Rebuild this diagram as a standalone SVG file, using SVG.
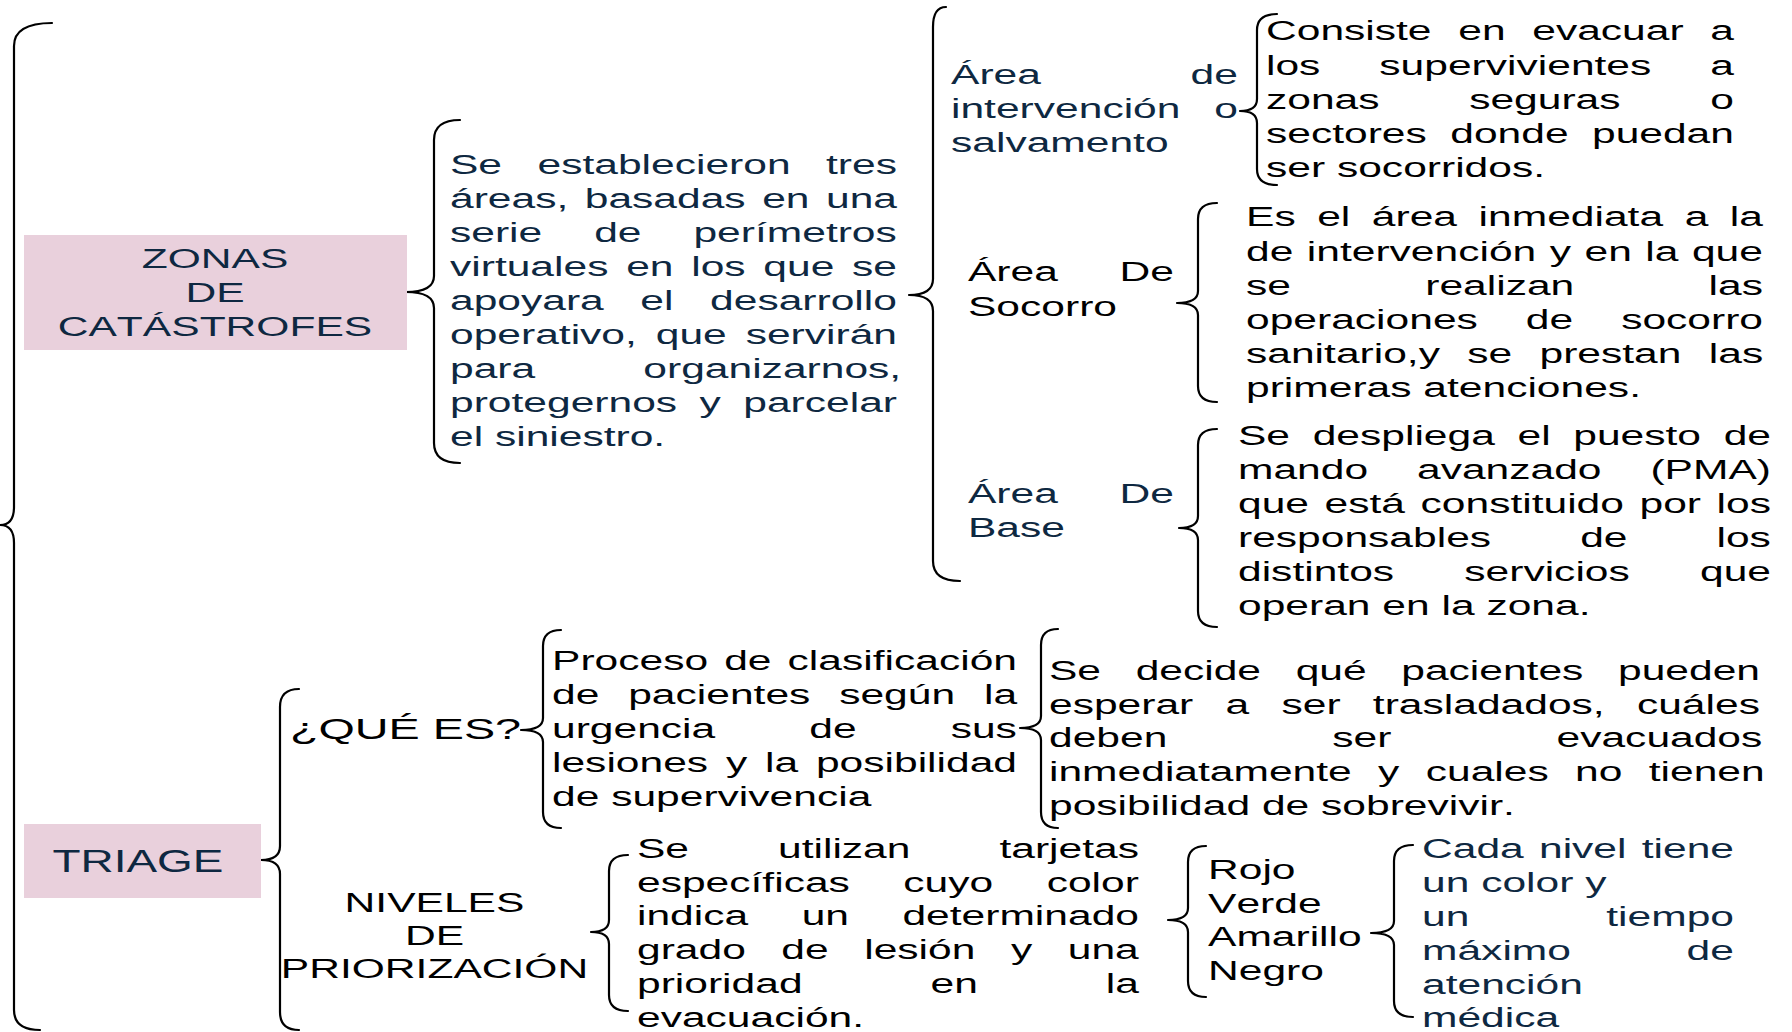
<svg xmlns="http://www.w3.org/2000/svg" width="1792" height="1032" viewBox="0 0 1792 1032">
<style>
text{font-family:"Liberation Sans",Arial,sans-serif;font-size:28px;font-kerning:none}
.n{fill:#0E2841}
.k{fill:#000}
.br{fill:none;stroke:#000;stroke-width:2.2;stroke-linecap:round;stroke-linejoin:round}
.box{fill:#E9D0DC}
.h{font-size:31px}
</style>
<rect width="1792" height="1032" fill="#fff"/>
<g id="connectors">
<path class="br" d="M52,23 Q14,23 14,46 V507 Q14,525 0,525 Q14,525 14,543 V1010 Q14,1030 40,1030"/>
<path class="br" d="M460,120 Q434,120 434,140 V276 Q434,292 406,292 Q434,292 434,308 V443 Q434,463 460,463"/>
<path class="br" d="M946,7 Q933,7 933,27 V279 Q933,295 909,295 Q933,295 933,311 V561 Q933,581 960,581"/>
<path class="br" d="M1277,14 Q1257,14 1257,30 V99 Q1257,111 1240,111 Q1257,111 1257,123 V169 Q1257,185 1277,185"/>
<path class="br" d="M1217,203 Q1198,203 1198,219 V291 Q1198,303 1177,303 Q1198,303 1198,315 V386 Q1198,402 1217,402"/>
<path class="br" d="M1217,429 Q1198,429 1198,445 V516 Q1198,528 1179,528 Q1198,528 1198,540 V611 Q1198,627 1217,627"/>
<path class="br" d="M299,689 Q280,689 280,707 V846 Q280,860 261,860 Q280,860 280,874 V1012 Q280,1030 299,1030"/>
<path class="br" d="M561,630 Q543,630 543,646 V718 Q543,730 521,730 Q543,730 543,742 V812 Q543,828 561,828"/>
<path class="br" d="M1058,629 Q1041,629 1041,645 V716 Q1041,728 1020,728 Q1041,728 1041,740 V812 Q1041,828 1058,828"/>
<path class="br" d="M628,855 Q609,855 609,871 V920 Q609,932 591,932 Q609,932 609,944 V995 Q609,1011 628,1011"/>
<path class="br" d="M1206,846 Q1188,846 1188,862 V908 Q1188,920 1168,920 Q1188,920 1188,932 V981 Q1188,997 1206,997"/>
<path class="br" d="M1413,845 Q1394,845 1394,861 V921 Q1394,933 1371,933 Q1394,933 1394,945 V1001 Q1394,1017 1413,1017"/>
</g>
<g id="zonas">
<rect class="box" x="24" y="235" width="383" height="115"/>
<g transform="scale(1.52,1)" class="n" text-anchor="middle">
<text x="141.45" y="268">ZONAS</text>
<text x="141.45" y="302">DE</text>
<text x="141.45" y="336">CATÁSTROFES</text>
</g>
</g>
<g id="tres-areas">
<g transform="scale(1.52,1)" class="n">
<text x="296.05" y="174" style="word-spacing:15.54px">Se establecieron tres</text>
<text x="296.05" y="208" style="word-spacing:3.08px">áreas, basadas en una</text>
<text x="296.05" y="242" style="word-spacing:26.4px">serie de perímetros</text>
<text x="296.05" y="276" style="word-spacing:3.88px">virtuales en los que se</text>
<text x="296.05" y="310" style="word-spacing:16.3px">apoyara el desarrollo</text>
<text x="296.05" y="344" style="word-spacing:4.65px">operativo, que servirán</text>
<text x="296.05" y="378" style="word-spacing:63.4px">para organizarnos,</text>
<text x="296.05" y="412" style="word-spacing:6.99px">protegernos y parcelar</text>
<text x="296.05" y="446">el siniestro.</text>
</g>
</g>
<g id="area-intervencion">
<g transform="scale(1.52,1)" class="n">
<text x="625.66" y="84" style="word-spacing:90.7px">Área de</text>
<text x="625.66" y="118" style="word-spacing:14.5px">intervención o</text>
<text x="625.66" y="152">salvamento</text>
</g>
</g>
<g id="consiste">
<g transform="scale(1.52,1)" class="k">
<text x="832.89" y="40" style="word-spacing:9.77px">Consiste en evacuar a</text>
<text x="832.89" y="75" style="word-spacing:31px">los supervivientes a</text>
<text x="832.89" y="109" style="word-spacing:51.2px">zonas seguras o</text>
<text x="832.89" y="143" style="word-spacing:7.63px">sectores donde puedan</text>
<text x="832.89" y="177">ser socorridos.</text>
</g>
</g>
<g id="area-socorro">
<g transform="scale(1.52,1)" class="k">
<text x="636.84" y="281" style="word-spacing:32.8px">Área De</text>
<text x="636.84" y="316">Socorro</text>
</g>
</g>
<g id="es-el-area">
<g transform="scale(1.52,1)" class="k">
<text x="819.74" y="226" style="word-spacing:6.4px">Es el área inmediata a la</text>
<text x="819.74" y="261" style="word-spacing:1.1px">de intervención y en la que</text>
<text x="819.74" y="295" style="word-spacing:80.6px">se realizan las</text>
<text x="819.74" y="329" style="word-spacing:23.8px">operaciones de socorro</text>
<text x="819.74" y="363" style="word-spacing:10.2px">sanitario,y se prestan las</text>
<text x="819.74" y="397">primeras atenciones.</text>
</g>
</g>
<g id="area-base">
<g transform="scale(1.52,1)" class="n">
<text x="636.84" y="503" style="word-spacing:32.8px">Área De</text>
<text x="636.84" y="537">Base</text>
</g>
</g>
<g id="se-despliega">
<g transform="scale(1.52,1)" class="k">
<text x="814.47" y="445" style="word-spacing:7.12px">Se despliega el puesto de</text>
<text x="814.47" y="479" style="word-spacing:24.4px">mando avanzado (PMA)</text>
<text x="814.47" y="513" style="word-spacing:2.46px">que está constituido por los</text>
<text x="814.47" y="547" style="word-spacing:50.8px">responsables de los</text>
<text x="814.47" y="581" style="word-spacing:38.4px">distintos servicios que</text>
<text x="814.47" y="615">operan en la zona.</text>
</g>
</g>
<g id="triage">
<rect class="box" x="24" y="824" width="237" height="74"/>
<g transform="scale(1.52,1)" class="n">
<text x="90.79" y="872" text-anchor="middle" style="font-size:32px" textLength="112.5" lengthAdjust="spacingAndGlyphs">TRIAGE</text>
</g>
</g>
<g id="que-es">
<g transform="scale(1.52,1)" class="k">
<text x="190.79" y="739" style="font-size:30px" textLength="152" lengthAdjust="spacingAndGlyphs">¿QUÉ ES?</text>
</g>
</g>
<g id="proceso">
<g transform="scale(1.52,1)" class="k">
<text x="363.16" y="670" style="word-spacing:2.8px">Proceso de clasificación</text>
<text x="363.16" y="704" style="word-spacing:11.2px">de pacientes según la</text>
<text x="363.16" y="738" style="word-spacing:54.1px">urgencia de sus</text>
<text x="363.16" y="772" style="word-spacing:3.94px">lesiones y la posibilidad</text>
<text x="363.16" y="806">de supervivencia</text>
</g>
</g>
<g id="se-decide">
<g transform="scale(1.52,1)" class="k">
<text x="690.13" y="680" style="word-spacing:14.99px">Se decide qué pacientes pueden</text>
<text x="690.13" y="714" style="word-spacing:13.45px">esperar a ser trasladados, cuáles</text>
<text x="690.13" y="747" style="word-spacing:100.8px">deben ser evacuados</text>
<text x="690.13" y="781" style="word-spacing:9.56px">inmediatamente y cuales no tienen</text>
<text x="690.13" y="815">posibilidad de sobrevivir.</text>
</g>
</g>
<g id="niveles">
<g transform="scale(1.52,1)" class="k" text-anchor="middle">
<text x="285.86" y="912">NIVELES</text>
<text x="285.86" y="945">DE</text>
<text x="285.86" y="978">PRIORIZACIÓN</text>
</g>
</g>
<g id="tarjetas">
<g transform="scale(1.52,1)" class="k">
<text x="419.08" y="858" style="word-spacing:50.75px">Se utilizan tarjetas</text>
<text x="419.08" y="892" style="word-spacing:27.4px">específicas cuyo color</text>
<text x="419.08" y="925" style="word-spacing:27.4px">indica un determinado</text>
<text x="419.08" y="959" style="word-spacing:15.6px">grado de lesión y una</text>
<text x="419.08" y="993" style="word-spacing:76.4px">prioridad en la</text>
<text x="419.08" y="1027">evacuación.</text>
</g>
</g>
<g id="colores">
<g transform="scale(1.52,1)" class="k">
<text x="794.74" y="879">Rojo</text>
<text x="794.74" y="913">Verde</text>
<text x="794.74" y="946">Amarillo</text>
<text x="794.74" y="980">Negro</text>
</g>
</g>
<g id="cada-nivel">
<g transform="scale(1.52,1)" class="n">
<text x="935.53" y="858" style="word-spacing:2.25px">Cada nivel tiene</text>
<text x="935.53" y="892">un color y</text>
<text x="935.53" y="926" style="word-spacing:82.3px">un tiempo</text>
<text x="935.53" y="960" style="word-spacing:68.3px">máximo de</text>
<text x="935.53" y="994">atención</text>
<text x="935.53" y="1027">médica</text>
</g>
</g>
</svg>
